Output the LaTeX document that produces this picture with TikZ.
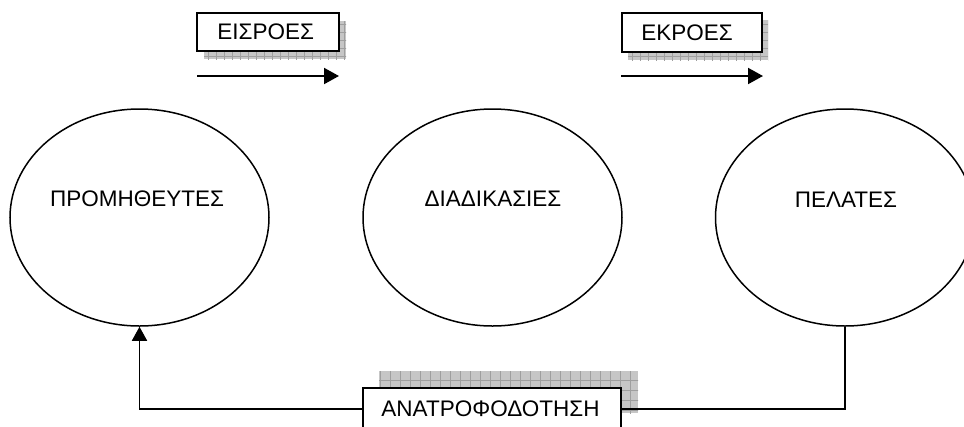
\documentclass[tikz,border=0pt]{standalone}
\usepackage{fontspec}
\setmainfont{Liberation Sans}
\usetikzlibrary{shapes.geometric,arrows.meta}
\begin{document}
\begin{tikzpicture}[x=1pt,y=-1pt,
  ell/.style={draw,ellipse,line width=1.5pt,minimum width=259pt,minimum height=217pt,inner sep=0pt},
  etext/.style={font=\fontsize{22.5}{27}\selectfont,inner sep=0pt},
  tbox/.style={draw,fill=white,line width=1.5pt,rectangle,inner sep=0pt},
  btext/.style={font=\fontsize{22.5}{27}\selectfont,inner sep=0pt,anchor=west},
  shadowfill/.style={fill=gray!45},
  shadowgrid/.style={draw=gray!75,line width=0.4pt},
  flow/.style={line width=2pt,-{Triangle[length=15pt,width=16pt]}},
  fb/.style={line width=1.6pt},
  fbarrow/.style={line width=1.6pt,-{Triangle[length=14pt,width=15pt]}}
]
\clip (0,0) rectangle (964,426);
\fill[white] (0,0) rectangle (964,426);

% ellipses
\node[ell] (e1) at (139.5,217.5) {};
\node[ell] (e2) at (492.5,217.5) {};
\node[ell] (e3) at (845,217.5) {};
\node[etext] (t1) at (137,199) {ΠΡΟΜΗΘΕΥΤΕΣ};
\node[etext] (t2) at (493,199) {ΔΙΑΔΙΚΑΣΙΕΣ};
\node[etext] (t3) at (846,200) {ΠΕΛΑΤΕΣ};

% shadows
\begin{scope}
  \clip (204,21) rectangle (346,59);
  \fill[shadowfill] (204,21) rectangle (346,59);
  \draw[shadowgrid,step=8pt] (200,10) grid (350,62);
\end{scope}
\begin{scope}
  \clip (628,20) rectangle (768,60);
  \fill[shadowfill] (628,20) rectangle (768,60);
  \draw[shadowgrid,step=8pt] (620,10) grid (770,62);
\end{scope}
\begin{scope}
  \clip (379,371) rectangle (638,413);
  \fill[shadowfill] (379,371) rectangle (638,413);
  \draw[shadowgrid,step=10pt] (370,360) grid (640,420);
\end{scope}

% boxes
\node[tbox,minimum width=142pt,minimum height=38pt] (b1) at (268,32) {};
\node[btext] (bt1) at ([xshift=21pt]b1.west) {ΕΙΣΡΟΕΣ};
\node[tbox,minimum width=140pt,minimum height=39pt] (b2) at (692,32.5) {};
\node[btext] (bt2) at ([xshift=20pt]b2.west) {ΕΚΡΟΕΣ};
\node[tbox,minimum width=258pt,minimum height=42pt] (b3) at (492,409) {};
\node[btext] (bt3) at ([xshift=19pt,yshift=0pt]b3.west) {ΑΝΑΤΡΟΦΟΔΟΤΗΣΗ};

% flow arrows
\coordinate (a1s) at (197,76);
\coordinate (a1e) at (339,76);
\coordinate (a2s) at (621,76);
\coordinate (a2e) at (763,76);
\draw[flow] (a1s) -- (a1e);
\draw[flow] (a2s) -- (a2e);

% feedback loop
\draw[fb] (e3.south) |- (b3.east);
\draw[fbarrow] (b3.west) -| (e1.south);
\end{tikzpicture}
\end{document}
